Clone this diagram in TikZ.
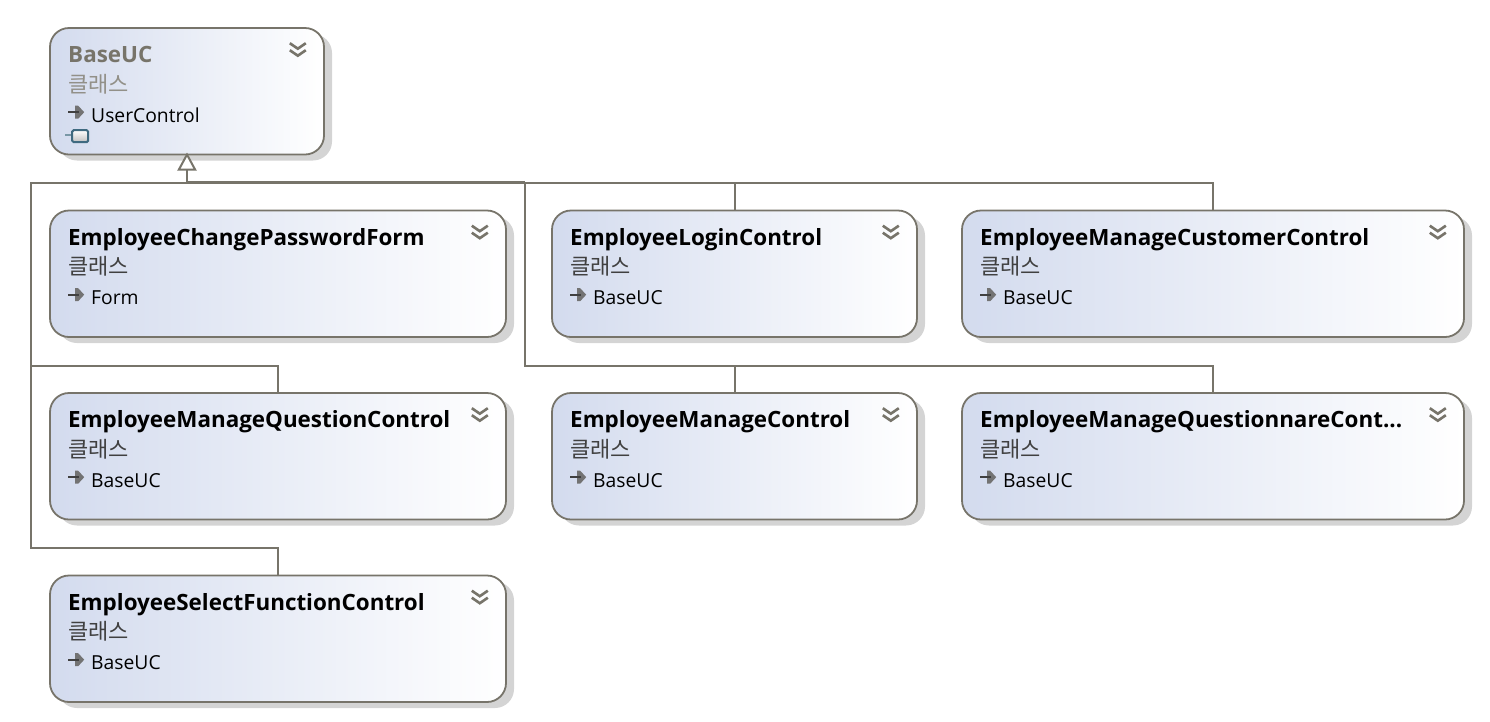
\documentclass[tikz,border=0pt]{standalone}
\usepackage{fontspec}
\setmainfont{Open Sans}
\newfontfamily\cjk{Noto Sans CJK KR}
\usepackage{xcolor}
\usetikzlibrary{positioning,arrows.meta,shadows}
\definecolor{linegray}{HTML}{77746A}
\definecolor{boxblue}{HTML}{D3DBEE}
\definecolor{compteal}{HTML}{3F6A80}

\begin{document}
\begin{tikzpicture}[
  x=1pt, y=1pt,
  node distance=56pt,
  classbox/.style={rectangle, draw=linegray, line width=1.8pt, rounded corners=19pt, outer sep=0pt, minimum height=126.5pt, left color=boxblue, right color=white, drop shadow={shadow xshift=8pt, shadow yshift=-6pt, fill=black!17, opacity=1}},
  titletxt/.style={inner sep=0pt, font=\fontsize{22.4}{26}\selectfont\bfseries},
  kindtxt/.style={inner sep=0pt, font=\fontsize{22}{26}\selectfont\cjk, text=black!75},
  basetxt/.style={inner sep=0pt, font=\fontsize{19.3}{23}\selectfont},
  inhicon/.style={minimum width=18pt, minimum height=14pt, inner sep=0pt, path picture={
    \fill[black!55, shift={(path picture bounding box.center)}] (-1,6.5) -- (2,6.5) -- (8,0) -- (2,-6.5) -- (-1,-6.5) -- cycle;
    \draw[black!75, line width=2.2pt, shift={(path picture bounding box.center)}] (-8,0) -- (3,0);}},
  chevicon/.style={minimum width=20pt, minimum height=18pt, inner sep=0pt, path picture={
    \draw[linegray, line width=2.6pt, shift={(path picture bounding box.center)}] (-8,7) -- (0,1.5) -- (8,7) (-8,0) -- (0,-5.5) -- (8,0);}},
  compicon/.style={minimum width=26pt, minimum height=14pt, inner sep=0pt, path picture={
    \draw[compteal!70, line width=2.5pt, shift={(path picture bounding box.center)}] (-12,1) -- (-5,1);
    \draw[compteal, top color=white, bottom color=black!25, line width=2pt, rounded corners=1.5pt, shift={(path picture bounding box.center)}] (-5,-6) rectangle (11,6);}},
  conn/.style={draw=linegray, line width=2pt},
  genarrow/.style={conn, shorten >=-2pt, -{Triangle[open, length=18pt, width=19pt, fill=white]}}
]

\useasboundingbox (0,0) rectangle (1490,-721);

% Class boxes
\node[classbox, minimum width=274pt, anchor=north west] (base) at (50,-28) {};
\node[classbox, minimum width=456pt, below=of base.south west, anchor=north west]     (form)    {};
\node[classbox, minimum width=365pt, right=46pt of form.north east, anchor=north west](login)   {};
\node[classbox, minimum width=502pt, right=45pt of login.north east, anchor=north west](cust)   {};
\node[classbox, minimum width=456pt, below=of form.south west, anchor=north west]     (quest)   {};
\node[classbox, minimum width=365pt, below=of login.south west, anchor=north west]    (manage)  {};
\node[classbox, minimum width=502pt, below=of cust.south west, anchor=north west]     (qnaire)  {};
\node[classbox, minimum width=456pt, below=of quest.south west, anchor=north west]    (select)  {};

% Titles
\node[titletxt, text=linegray, below right=34.5pt and 18pt of base.north west, anchor=base west] (baset) {BaseUC};
\node[titletxt, below right=34.5pt and 18pt of form.north west, anchor=base west]   (formt)   {EmployeeChangePasswordForm};
\node[titletxt, below right=34.5pt and 18pt of login.north west, anchor=base west]  (logint)  {EmployeeLoginControl};
\node[titletxt, below right=34.5pt and 18pt of cust.north west, anchor=base west]   (custt)   {EmployeeManageCustomerControl};
\node[titletxt, below right=34.5pt and 18pt of quest.north west, anchor=base west]  (questt)  {EmployeeManageQuestionControl};
\node[titletxt, below right=34.5pt and 18pt of manage.north west, anchor=base west] (managet) {EmployeeManageControl};
\node[titletxt, below right=34.5pt and 18pt of qnaire.north west, anchor=base west] (qnairet) {EmployeeManageQuestionnareCont...};
\node[titletxt, below right=34.5pt and 18pt of select.north west, anchor=base west] (selectt) {EmployeeSelectFunctionControl};

% Kind labels
\node[kindtxt, text=linegray!80, below right=64pt and 18pt of base.north west, anchor=base west] (basek) {클래스};
\node[kindtxt, below right=64pt and 18pt of form.north west, anchor=base west]   (formk)   {클래스};
\node[kindtxt, below right=64pt and 18pt of login.north west, anchor=base west]  (logink)  {클래스};
\node[kindtxt, below right=64pt and 18pt of cust.north west, anchor=base west]   (custk)   {클래스};
\node[kindtxt, below right=64pt and 18pt of quest.north west, anchor=base west]  (questk)  {클래스};
\node[kindtxt, below right=64pt and 18pt of manage.north west, anchor=base west] (managek) {클래스};
\node[kindtxt, below right=64pt and 18pt of qnaire.north west, anchor=base west] (qnairek) {클래스};
\node[kindtxt, below right=64pt and 18pt of select.north west, anchor=base west] (selectk) {클래스};

% Parent labels
\node[basetxt, below right=94pt and 41pt of base.north west, anchor=base west]   (basep)   {UserControl};
\node[basetxt, below right=94pt and 41pt of form.north west, anchor=base west]   (formp)   {Form};
\node[basetxt, below right=94pt and 41pt of login.north west, anchor=base west]  (loginp)  {BaseUC};
\node[basetxt, below right=94pt and 41pt of cust.north west, anchor=base west]   (custp)   {BaseUC};
\node[basetxt, below right=94pt and 41pt of quest.north west, anchor=base west]  (questp)  {BaseUC};
\node[basetxt, below right=94pt and 41pt of manage.north west, anchor=base west] (managep) {BaseUC};
\node[basetxt, below right=94pt and 41pt of qnaire.north west, anchor=base west] (qnairep) {BaseUC};
\node[basetxt, below right=94pt and 41pt of select.north west, anchor=base west] (selectp) {BaseUC};

% Inheritance icons
\node[inhicon, below right=77pt and 17pt of base.north west]   (basei)   {};
\node[inhicon, below right=77pt and 17pt of form.north west]   (formi)   {};
\node[inhicon, below right=77pt and 17pt of login.north west]  (logini)  {};
\node[inhicon, below right=77pt and 17pt of cust.north west]   (custi)   {};
\node[inhicon, below right=77pt and 17pt of quest.north west]  (questi)  {};
\node[inhicon, below right=77pt and 17pt of manage.north west] (managei) {};
\node[inhicon, below right=77pt and 17pt of qnaire.north west] (qnairei) {};
\node[inhicon, below right=77pt and 17pt of select.north west] (selecti) {};
\node[compicon, below right=101pt and 14pt of base.north west] (basec)   {};

% Chevrons
\node[chevicon, below left=13pt and 16pt of base.north east]   (basev)   {};
\node[chevicon, below left=13pt and 16pt of form.north east]   (formv)   {};
\node[chevicon, below left=13pt and 16pt of login.north east]  (loginv)  {};
\node[chevicon, below left=13pt and 16pt of cust.north east]   (custv)   {};
\node[chevicon, below left=13pt and 16pt of quest.north east]  (questv)  {};
\node[chevicon, below left=13pt and 16pt of manage.north east] (managev) {};
\node[chevicon, below left=13pt and 16pt of qnaire.north east] (qnairev) {};
\node[chevicon, below left=13pt and 16pt of select.north east] (selectv) {};

% Bus points
\coordinate[below=28pt of base.south] (trunk);
\coordinate[left=156pt of trunk]      (westbus);
\coordinate[right=338pt of trunk]     (midbus);
\coordinate[below=183pt of westbus]   (westmid);
\coordinate[below=365pt of westbus]   (westlow);
\coordinate[below=183pt of midbus]    (midlow);

% Connectors
\draw[genarrow] (trunk) -- (base.south);
\draw[conn] (trunk) -- (westbus) -- (westlow) -| (select.north);
\draw[conn] (westmid) -| (quest.north);
\draw[conn, line width=2.5pt] (trunk) -- (midbus);
\draw[conn] (midbus) -| (login.north);
\draw[conn] (midbus) -| (cust.north);
\draw[conn] (midbus) -- (midlow) -| (manage.north);
\draw[conn] (midlow) -| (qnaire.north);

\end{tikzpicture}
\end{document}
